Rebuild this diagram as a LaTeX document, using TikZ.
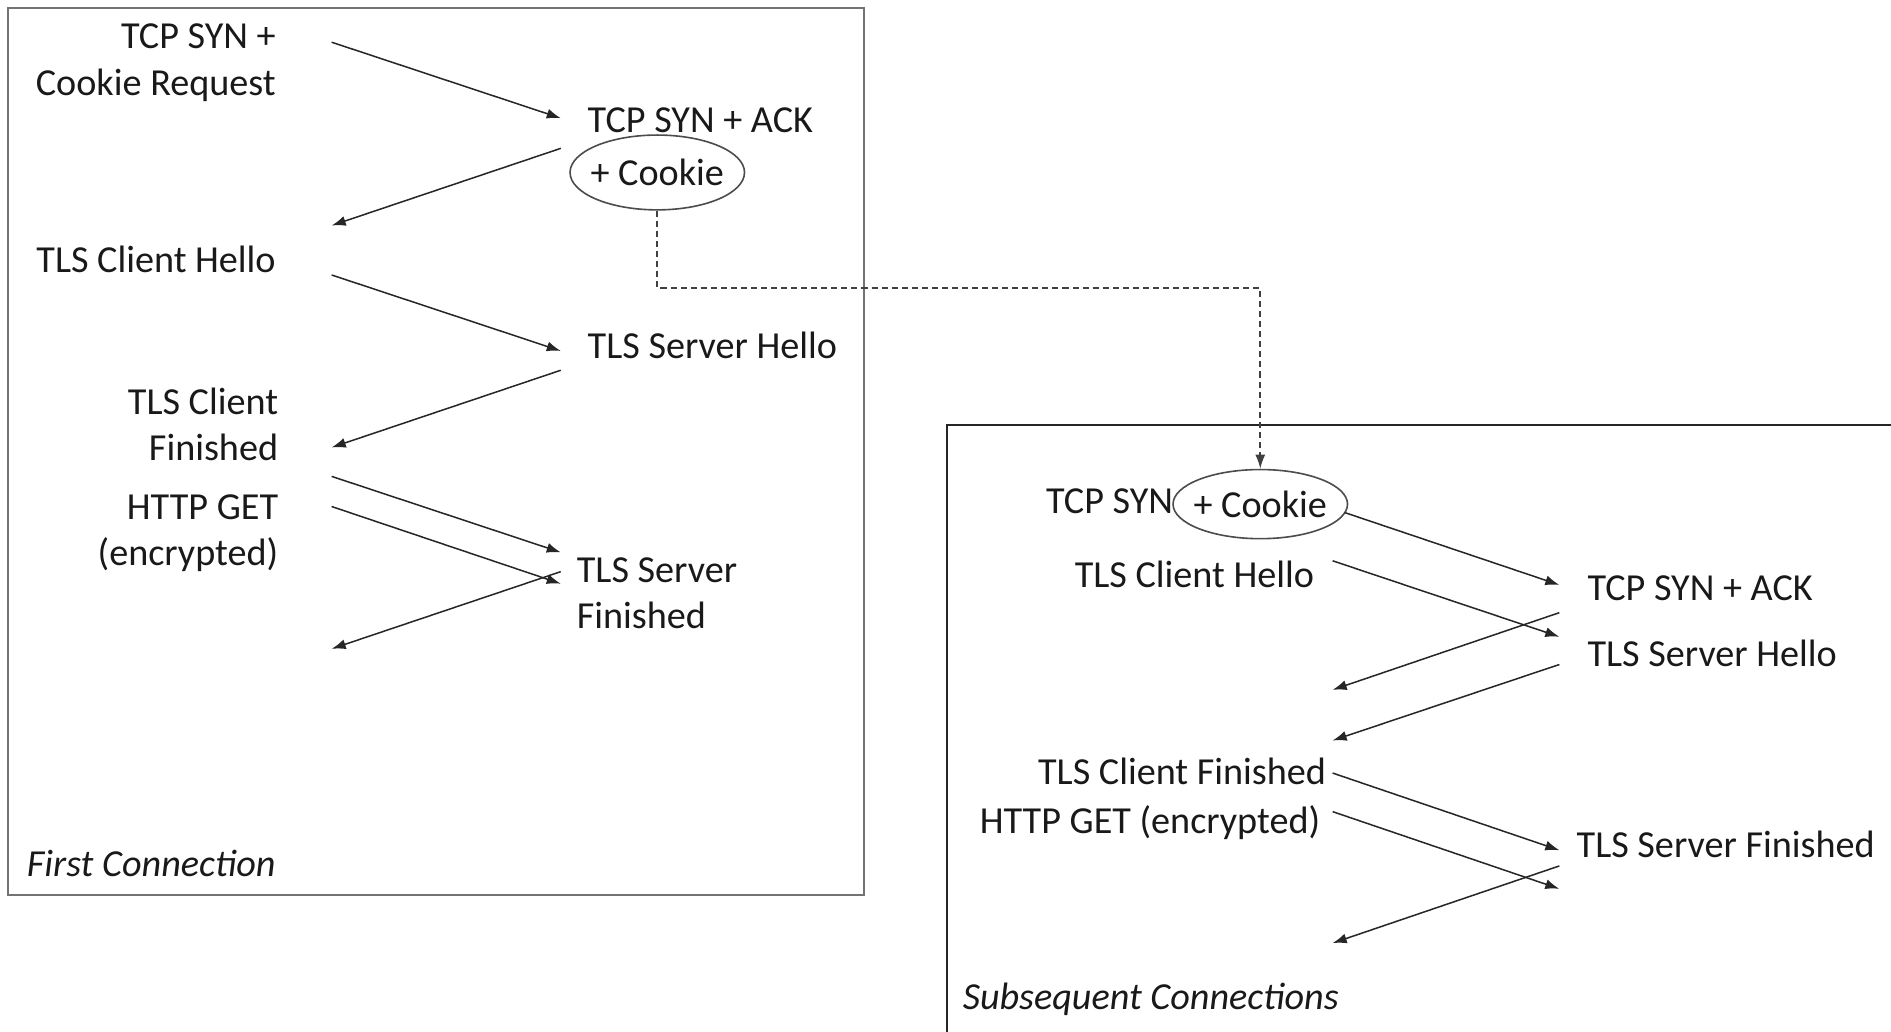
\documentclass[tikz,border=0pt]{standalone}
\usepackage{fontspec}
\setmainfont{Carlito}
\usetikzlibrary{positioning}
\usetikzlibrary{arrows.meta,shapes.geometric}
\tikzstyle{txt} = [inner sep=0pt,text=black!90,font=\fontsize{19}{23}\selectfont]
\tikzstyle{boxtitle} = [txt,font=\fontsize{19}{23}\selectfont\itshape]
\tikzstyle{msg} = [draw,line width=0.75pt,black!85,-{Latex[length=7pt,width=5pt]}]
\tikzstyle{cookie} = [ellipse,draw=black!70,line width=0.8pt,txt,inner xsep=-2.5pt]
\tikzstyle{connbox} = [draw,line width=1pt]

\begin{document}
\begin{tikzpicture}[x=0.6pt,y=-0.6pt]
  \clip (0,0) rectangle (1568,855);

  % boxes for the two kinds of connection
  \draw[connbox,black!55] (7,7) rectangle (716,742);
  \draw[connbox,black!85] (785,352) rectangle (1600,900);

  % first connection
  \node[txt,anchor=east,align=right] (synreq) at (229,52) {TCP SYN +\\Cookie Request};
  \node[txt,anchor=west] (synack) at (487,100) {TCP SYN + ACK};
  \node[cookie,inner ysep=6.5pt] (ckA) at (545,143) {+ Cookie};
  \node[txt,anchor=east] (chello) at (229,215) {TLS Client Hello};
  \node[txt,anchor=west] (shello) at (487,286) {TLS Server Hello};
  \node[txt,anchor=east,align=right] (cfin) at (231,352) {TLS Client\\Finished};
  \node[txt,anchor=east,align=right] (get) at (231,442) {HTTP GET\\(encrypted)};
  \node[txt,anchor=west,align=left] (sfin) at (478,492) {TLS Server\\Finished};
  \node[boxtitle,anchor=west] (first) at (22,716) {First Connection};

  \foreach \name/\x/\y in {c1/275/35, s1/465/98, s2/465/123, c2/275/187,
                           c3/275/228, s3/465/291, s4/465/307, c4/275/371,
                           c5/275/395, s5/465/458, c6/275/420, s6/465/484,
                           s7/465/474, c7/275/538}
      \coordinate (\name) at (\x,\y);

  \foreach \source/\dest in {c1/s1, s2/c2, c3/s3, s4/c4, c5/s5, c6/s6, s7/c7}
      \path[msg] (\source) -- (\dest);

  % subsequent connections
  \node[cookie,inner ysep=5.5pt] (ckB) at (1045,418) {+ Cookie};
  \node[txt,anchor=east] (syn) at (973,416) {TCP SYN};
  \node[txt,anchor=east] (chB) at (1090,476) {TLS Client Hello};
  \node[txt,anchor=west] (sackB) at (1316,488) {TCP SYN + ACK};
  \node[txt,anchor=west] (shB) at (1316,542) {TLS Server Hello};
  \node[txt,anchor=east] (cfB) at (1100,640) {TLS Client Finished};
  \node[txt,anchor=east] (getB) at (1095,682) {HTTP GET (encrypted)};
  \node[txt,anchor=west] (sfB) at (1307,700) {TLS Server Finished};
  \node[boxtitle,anchor=west] (next) at (798,829) {Subsequent Connections};

  \foreach \name/\x/\y in {nc1/1115/425, ns1/1293/485, nc2/1105/465, ns2/1293/528,
                           ns3/1293/508, nc3/1105/572, ns4/1293/551, nc4/1105/614,
                           nc5/1105/641, ns5/1293/705, nc6/1105/673, ns6/1293/737,
                           ns7/1293/718, nc7/1105/782}
      \coordinate (\name) at (\x,\y);

  \foreach \source/\dest in {nc1/ns1, nc2/ns2, ns3/nc3, ns4/nc4, nc5/ns5, nc6/ns6, ns7/nc7}
      \path[msg] (\source) -- (\dest);

  % the cookie is carried over
  \draw[black!75,line width=0.8pt,dash pattern=on 3pt off 2pt,-{Latex[length=7pt,width=5pt]}]
      (ckA.south) -- ++(0,64) -| (ckB.north);

\end{tikzpicture}
\end{document}
